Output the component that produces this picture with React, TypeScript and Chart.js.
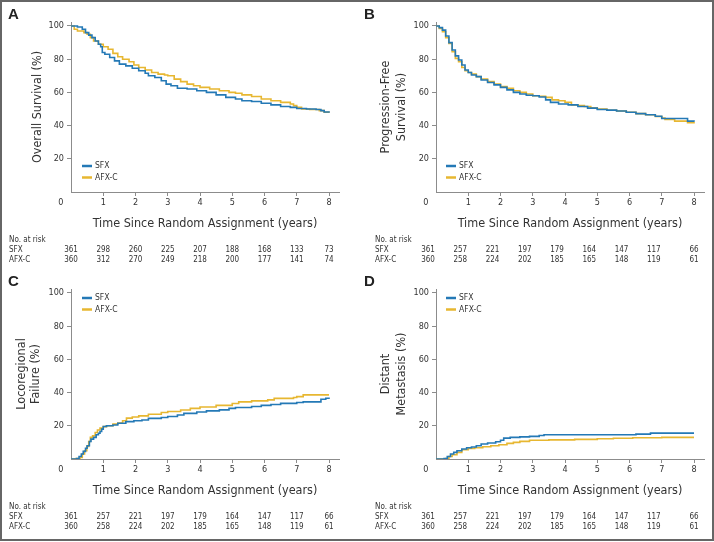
import React, { useEffect, useRef } from 'react';
import { Chart, registerables } from 'chart.js';

Chart.register(...registerables);

const NARROW = '"DejaVu Sans Condensed", "Liberation Sans Narrow", "Arial Narrow", sans-serif';
const SANS = '"Liberation Sans", Arial, sans-serif';
const TEXT = '#333333';
const AXIS = '#8c8c8c';
const BLUE = '#2479b6';
const GOLD = '#e7b731';

const SERIES_NAMES = ['SFX', 'AFX-C'];
const X_TICKS = [0, 1, 2, 3, 4, 5, 6, 7, 8];
const X_TITLE = 'Time Since Random Assignment (years)';
const RISK_TITLE = 'No. at risk';

// Numbers at risk
const RISK_OS_SFX = [361, 298, 260, 225, 207, 188, 168, 133, 73];
const RISK_OS_AFX = [360, 312, 270, 249, 218, 200, 177, 141, 74];
const RISK_EVT_SFX = [361, 257, 221, 197, 179, 164, 147, 117, 66];
const RISK_EVT_AFX = [360, 258, 224, 202, 185, 165, 148, 119, 61];

// A: Overall survival (%)
const OS_SFX_T = [0, 0.2, 0.35, 0.45, 0.55, 0.65, 0.75, 0.85, 0.92, 0.97, 1.05, 1.2, 1.35, 1.5, 1.7, 1.9, 2.1, 2.3, 2.4, 2.6, 2.8, 2.95, 3.1, 3.3, 3.6, 3.9, 4.2, 4.5, 4.8, 5.1, 5.3, 5.6, 5.9, 6.2, 6.5, 6.8, 7.0, 7.3, 7.6, 7.75, 7.85, 8.0];
const OS_SFX_V = [100, 99.4, 98, 96, 94.5, 93, 91, 89, 87.5, 84, 83, 81, 79, 77, 76, 74.5, 73, 71.5, 70, 69, 67, 65, 64, 62.5, 62, 61, 60, 58.5, 57, 56, 55, 54.5, 53.5, 52.5, 51.5, 51, 50.3, 50, 49.7, 49, 48.2, 47.7];
const OS_AFX_T = [0, 0.1, 0.2, 0.4, 0.5, 0.6, 0.7, 0.85, 1.0, 1.15, 1.3, 1.45, 1.6, 1.8, 1.95, 2.1, 2.3, 2.5, 2.7, 2.9, 3.0, 3.2, 3.4, 3.6, 3.8, 4.0, 4.3, 4.6, 4.9, 5.1, 5.3, 5.6, 5.9, 6.2, 6.5, 6.8, 6.9, 7.0, 7.15, 7.4, 7.7, 7.85, 8.0];
const OS_AFX_V = [100, 98, 97, 96, 95, 93, 91, 89, 87.5, 86, 83.5, 81.5, 80, 78.5, 76.5, 75, 73.5, 72, 71, 70.5, 70, 68, 66.5, 65, 64, 63, 62, 61, 60, 59.5, 58.5, 57.5, 56, 55, 54, 53, 52, 51, 50, 49.7, 49, 48, 47.7];

// B: Progression-free survival (%)
const PFS_SFX_T = [0, 0.1, 0.2, 0.3, 0.4, 0.5, 0.6, 0.7, 0.8, 0.9, 1.0, 1.1, 1.25, 1.4, 1.6, 1.8, 2.0, 2.2, 2.4, 2.6, 2.8, 3.0, 3.2, 3.4, 3.55, 3.8, 4.1, 4.4, 4.7, 5.0, 5.3, 5.6, 5.9, 6.2, 6.5, 6.8, 7.0, 7.7, 7.8, 8.0];
const PFS_SFX_V = [100, 99, 97.5, 94, 90, 85.5, 82, 79.5, 76.5, 73.5, 72, 70.5, 69.5, 67.5, 66, 64.5, 63, 61.5, 60, 59, 58.3, 58, 57.2, 55.5, 54, 53, 52.5, 51.5, 50.5, 49.7, 49.3, 48.8, 48, 47.2, 46.5, 45.6, 44.3, 44.3, 42.7, 42.3];
const PFS_AFX_T = [0, 0.1, 0.2, 0.3, 0.4, 0.5, 0.6, 0.7, 0.8, 0.9, 1.0, 1.1, 1.25, 1.4, 1.6, 1.8, 2.0, 2.2, 2.4, 2.6, 2.8, 3.0, 3.2, 3.4, 3.6, 3.8, 4.0, 4.2, 4.4, 4.6, 4.8, 5.0, 5.3, 5.6, 5.9, 6.2, 6.5, 6.8, 7.0, 7.1, 7.4, 7.8, 8.0];
const PFS_AFX_V = [100, 98.5, 96.5, 93, 89.5, 84.5, 80.5, 78.5, 75, 73, 72, 71, 69.5, 68, 66.5, 65, 63.5, 62.5, 61, 60, 59, 58, 57.7, 57, 55.5, 55, 54, 52.5, 52, 51.5, 50.7, 50, 49.2, 48.8, 48, 47.2, 46.5, 45.5, 44.5, 43.7, 42.7, 41.8, 41.3];

// C: Locoregional failure (%)
const LRF_SFX_T = [0, 0.18, 0.25, 0.32, 0.38, 0.45, 0.5, 0.57, 0.62, 0.7, 0.78, 0.85, 0.9, 0.95, 1.0, 1.1, 1.3, 1.45, 1.7, 1.95, 2.2, 2.4, 2.8, 3.0, 3.3, 3.5, 3.9, 4.2, 4.6, 4.9, 5.1, 5.6, 5.9, 6.2, 6.5, 7.0, 7.2, 7.75, 7.9, 8.0];
const LRF_SFX_V = [0, 0.3, 1.5, 3, 4.6, 6.5, 8, 10.5, 12, 13, 14.6, 15.5, 16.6, 18, 19.6, 20, 20.5, 21.5, 22.5, 23, 23.5, 24.5, 25, 25.6, 26.5, 27.5, 28.3, 29, 29.6, 30.5, 31, 31.6, 32.3, 32.8, 33.5, 34, 34.4, 36, 36.6, 37];
const LRF_AFX_T = [0, 0.15, 0.28, 0.35, 0.42, 0.49, 0.55, 0.6, 0.67, 0.75, 0.82, 0.9, 1.0, 1.1, 1.3, 1.45, 1.6, 1.72, 1.9, 2.1, 2.4, 2.8, 3.0, 3.4, 3.7, 4.0, 4.5, 5.0, 5.2, 5.6, 6.1, 6.3, 6.9, 7.0, 7.2, 8.0];
const LRF_AFX_V = [0, 0.3, 1, 3, 5, 7.6, 10.5, 13, 14, 16, 17.5, 18.6, 19.5, 20, 21, 21.6, 23, 24.6, 25.3, 26, 27, 28, 28.6, 29.5, 30.5, 31.3, 32.3, 33.4, 34.4, 35, 35.6, 36.5, 37, 37.6, 38.6, 38.6];

// D: Distant metastasis (%)
const DM_SFX_T = [0, 0.25, 0.35, 0.45, 0.55, 0.65, 0.8, 0.95, 1.1, 1.25, 1.4, 1.6, 1.85, 2.0, 2.1, 2.3, 2.6, 2.9, 3.2, 3.35, 6.2, 6.65, 8.0];
const DM_SFX_V = [0, 0.2, 1.5, 3, 4, 5, 6, 6.8, 7.2, 8, 9, 9.6, 10.4, 11.3, 12.6, 13, 13.3, 13.6, 14.2, 14.6, 15, 15.6, 15.6];
const DM_AFX_T = [0, 0.3, 0.4, 0.5, 0.65, 0.8, 1.0, 1.2, 1.45, 1.7, 1.95, 2.2, 2.4, 2.6, 2.9, 3.5, 4.3, 5.0, 5.5, 6.1, 7.0, 8.0];
const DM_AFX_V = [0, 0.3, 1.5, 2.6, 4, 5.6, 6.3, 6.8, 7.4, 8, 8.6, 9.4, 10, 10.6, 11.3, 11.5, 11.8, 12.2, 12.5, 12.8, 13, 13];

type PanelCfg = {
  letter: string;
  left: number;
  top: number;
  yTitle: string | string[];
  yLineHeight: string;
  yTitlePad: number;
  axisLeft: number;
  axisRight: number;
  legendAt: 'top' | 'bottom';
  legendDx: number;
  riskShift: number;
  riskLabelX: number;
  letterX: number;
  sfxT: number[];
  sfxV: number[];
  afxT: number[];
  afxV: number[];
  riskSfx: number[];
  riskAfx: number[];
};

const PANELS: PanelCfg[] = [
  {
    letter: 'A', left: 0, top: 0, yTitle: 'Overall Survival (%)', yLineHeight: '18px', yTitlePad: 29,
    axisLeft: 71, axisRight: 339, legendAt: 'bottom', legendDx: 11, riskShift: 0, riskLabelX: 9, letterX: 8,
    sfxT: OS_SFX_T, sfxV: OS_SFX_V, afxT: OS_AFX_T, afxV: OS_AFX_V, riskSfx: RISK_OS_SFX, riskAfx: RISK_OS_AFX,
  },
  {
    letter: 'B', left: 357, top: 0, yTitle: ['Progression-Free', 'Survival (%)'], yLineHeight: '16px', yTitlePad: 21,
    axisLeft: 79, axisRight: 347, legendAt: 'bottom', legendDx: 10, riskShift: 8, riskLabelX: 18, letterX: 7,
    sfxT: PFS_SFX_T, sfxV: PFS_SFX_V, afxT: PFS_AFX_T, afxV: PFS_AFX_V, riskSfx: RISK_EVT_SFX, riskAfx: RISK_EVT_AFX,
  },
  {
    letter: 'C', left: 0, top: 267, yTitle: ['Locoregional', 'Failure (%)'], yLineHeight: '14px', yTitlePad: 15,
    axisLeft: 71, axisRight: 339, legendAt: 'top', legendDx: 11, riskShift: 0, riskLabelX: 9, letterX: 8,
    sfxT: LRF_SFX_T, sfxV: LRF_SFX_V, afxT: LRF_AFX_T, afxV: LRF_AFX_V, riskSfx: RISK_EVT_SFX, riskAfx: RISK_EVT_AFX,
  },
  {
    letter: 'D', left: 357, top: 267, yTitle: ['Distant', 'Metastasis (%)'], yLineHeight: '16px', yTitlePad: 21,
    axisLeft: 79, axisRight: 347, legendAt: 'top', legendDx: 10, riskShift: 8, riskLabelX: 18, letterX: 7,
    sfxT: DM_SFX_T, sfxV: DM_SFX_V, afxT: DM_AFX_T, afxV: DM_AFX_V, riskSfx: RISK_EVT_SFX, riskAfx: RISK_EVT_AFX,
  },
];

const PANEL_W = 357;
const PANEL_H = 267;

const toPts = (t: number[], v: number[]) => t.map((x, i) => ({ x, y: v[i] }));

function extrasPlugin(cfg: PanelCfg) {
  return {
    id: 'panelExtras' + cfg.letter,
    afterDraw(chart: any) {
      const { ctx, chartArea: ca } = chart;
      const xs = chart.scales.x;
      ctx.save();
      ctx.textBaseline = 'middle';
      ctx.textAlign = 'left';
      // panel letter
      ctx.fillStyle = '#222222';
      ctx.font = `bold 15px ${SANS}`;
      ctx.fillText(cfg.letter, cfg.letterX, 15);
      // legend
      const rows = cfg.legendAt === 'bottom' ? [ca.bottom - 26, ca.bottom - 14.5] : [ca.top + 9, ca.top + 20.5];
      chart.data.datasets.forEach((ds: any, i: number) => {
        const y = rows[i];
        const x0 = ca.left + cfg.legendDx;
        ctx.strokeStyle = ds.borderColor;
        ctx.lineWidth = 2.5;
        ctx.beginPath();
        ctx.moveTo(x0, y);
        ctx.lineTo(x0 + 10, y);
        ctx.stroke();
        ctx.fillStyle = TEXT;
        ctx.font = `8.5px ${NARROW}`;
        ctx.fillText(ds.label, x0 + 13, y);
      });
      // risk table
      ctx.font = `8px ${NARROW}`;
      ctx.fillStyle = TEXT;
      const r0 = ca.bottom + 48;
      ctx.fillText(RISK_TITLE, cfg.riskLabelX, r0);
      ctx.fillText(SERIES_NAMES[0], cfg.riskLabelX, r0 + 10);
      ctx.fillText(SERIES_NAMES[1], cfg.riskLabelX, r0 + 20);
      ctx.textAlign = 'center';
      X_TICKS.forEach((t, i) => {
        const px = xs.getPixelForValue(t) - (i < X_TICKS.length - 1 ? cfg.riskShift : 0);
        ctx.fillText(String(cfg.riskSfx[i]), px, r0 + 10);
        ctx.fillText(String(cfg.riskAfx[i]), px, r0 + 20);
      });
      ctx.restore();
    },
  };
}

function Panel({ cfg }: { cfg: PanelCfg }) {
  const ref = useRef<HTMLCanvasElement | null>(null);
  useEffect(() => {
    if (!ref.current) return;
    const tickColor = (c: any) => (c.tick && c.tick.value === 0 ? 'rgba(0,0,0,0)' : AXIS);
    const chart = new Chart(ref.current, {
      type: 'line',
      data: {
        datasets: [
          { label: SERIES_NAMES[0], data: toPts(cfg.sfxT, cfg.sfxV), borderColor: BLUE, backgroundColor: BLUE, borderWidth: 1.6, pointRadius: 0, stepped: true, fill: false },
          { label: SERIES_NAMES[1], data: toPts(cfg.afxT, cfg.afxV), borderColor: GOLD, backgroundColor: GOLD, borderWidth: 1.6, pointRadius: 0, stepped: true, fill: false },
        ],
      },
      options: {
        animation: false,
        responsive: false,
        devicePixelRatio: 1,
        events: [],
        layout: { padding: { top: 22, right: PANEL_W - cfg.axisRight, bottom: 27, left: 0 } },
        plugins: { legend: { display: false }, tooltip: { enabled: false } },
        scales: {
          x: {
            type: 'linear',
            min: 0,
            max: 8.31,
            afterFit: (s: any) => { s.height = 48; },
            ticks: {
              stepSize: 1,
              includeBounds: false,
              autoSkip: false,
              maxRotation: 0,
              padding: 1,
              color: TEXT,
              font: { family: NARROW, size: 9 },
              callback: (v: any) => (v === 0 ? '0' + ' '.repeat(8) : String(v)),
            },
            grid: { drawOnChartArea: false, tickLength: 4, color: AXIS, tickColor },
            border: { color: AXIS, width: 1 },
            title: { display: true, text: X_TITLE, color: TEXT, font: { family: NARROW, size: 12.5 }, padding: { top: 0, bottom: 9 } },
          },
          y: {
            type: 'linear',
            min: 0,
            max: 102.4,
            afterFit: (s: any) => { s.width = cfg.axisLeft; },
            ticks: {
              stepSize: 20,
              includeBounds: false,
              padding: 3,
              color: TEXT,
              font: { family: NARROW, size: 9 },
              callback: (v: any) => (v === 0 ? '' : String(v)),
            },
            grid: { drawOnChartArea: false, tickLength: 4, color: AXIS, tickColor },
            border: { color: AXIS, width: 1 },
            title: { display: true, text: cfg.yTitle, color: TEXT, font: { family: NARROW, size: 12.5, lineHeight: cfg.yLineHeight }, padding: { top: cfg.yTitlePad, bottom: 0 } },
          },
        },
      } as any,
      plugins: [extrasPlugin(cfg)],
    });
    return () => chart.destroy();
  }, [cfg]);
  return (
    <canvas
      ref={ref}
      width={PANEL_W}
      height={PANEL_H}
      style={{ position: 'absolute', left: cfg.left, top: cfg.top, width: PANEL_W, height: PANEL_H }}
    />
  );
}

export default function App() {
  useEffect(() => {
    document.body.style.margin = '0';
  }, []);
  return (
    <div style={{ position: 'relative', width: 714, height: 542, background: '#ffffff', overflow: 'hidden' }}>
      {PANELS.map((p) => (
        <Panel key={p.letter} cfg={p} />
      ))}
      <div
        style={{
          position: 'absolute', left: 0, top: 0, width: 714, height: 541, boxSizing: 'border-box',
          border: '2px solid #666666', pointerEvents: 'none',
        }}
      />
    </div>
  );
}
